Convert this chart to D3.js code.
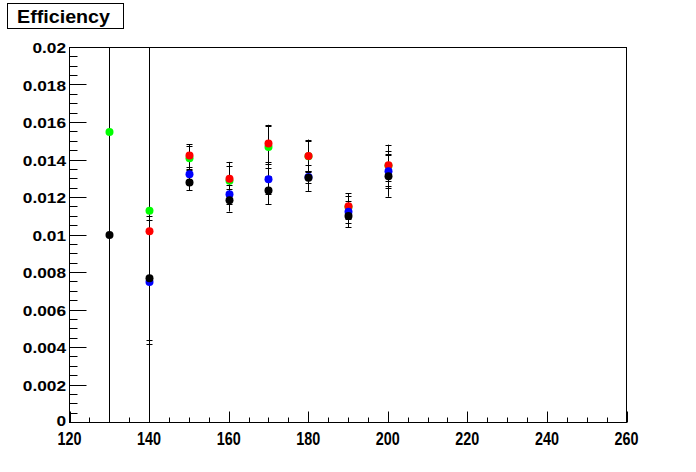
<!DOCTYPE html>
<html><head><meta charset="utf-8">
<script src="https://d3js.org/d3.v7.min.js"></script>
<style>body{margin:0;background:#fff}svg{display:block}text{font-family:"Liberation Sans",Arial,sans-serif;font-weight:bold}</style>
</head><body><svg id="c" width="696" height="472"></svg>
<script>
const xs = [130,140,150,160,170,180,190,200];
const seriesNames = ["green","red","blue","black"];
const colors = ["#00ff00","#ff0000","#0000ff","#000000"];
// values (null = no point)
const greenVals = [0.0155,0.0113,0.0141,0.0129,0.0147,0.0142,0.0115,0.0137];
const greenErr  = [0.03,0.03,0.00063,0.0008,0.0011,0.0008,0.0006,0.0008];
const redVals   = [null,0.0102,0.01424,0.0130,0.01488,0.01422,0.01154,0.01372];
const redErr    = [null,0.03,0.0006,0.0009,0.0010,0.00087,0.0007,0.0011];
const blueVals  = [null,0.0075,0.01324,0.01218,0.01298,0.0131,0.01124,0.0134];
const blueErr   = [null,0.0033,0.0003,0.0005,0.0008,0.0003,0.0006,0.0009];
const blackVals = [0.0100,0.0077,0.0128,0.01185,0.01238,0.01305,0.01101,0.01314];
const blackErr  = [0.03,0.0033,0.0004,0.0006,0.00075,0.0007,0.0006,0.0011];
const xTicks = [120,140,160,180,200,220,240,260];
const yTicks = [0,0.002,0.004,0.006,0.008,0.01,0.012,0.014,0.016,0.018,0.02];
const title = "Efficiency";

const vals = [greenVals,redVals,blueVals,blackVals];
const errs = [greenErr,redErr,blueErr,blackErr];

const L=69.5,R=626.5,T=47.5,B=422.5;
const svg = d3.select("#c");
const x = d3.scaleLinear().domain([120,260]).range([L,R]);
const y = d3.scaleLinear().domain([0,0.02]).range([B,T]);

// title
const tg = svg.append("g");
tg.append("rect").attr("x",7.5).attr("y",3.5).attr("width",116).attr("height",25).attr("fill","#fff").attr("stroke","#000");
tg.append("text").attr("x",17).attr("y",22.5).attr("font-size",19).attr("textLength",93).attr("lengthAdjust","spacingAndGlyphs").text(title);

// frame
svg.append("rect").attr("x",L).attr("y",T).attr("width",R-L).attr("height",B-T).attr("fill","none").attr("stroke","#000");

// x ticks
const xMinor = d3.range(120,261,5);
svg.append("g").selectAll("line").data(xMinor).join("line")
  .attr("x1",d=>Math.round(x(d))+0.5).attr("x2",d=>Math.round(x(d))+0.5)
  .attr("y1",B).attr("y2",d=>d%20===0?B-11:B-5).attr("stroke","#000");
svg.append("g").selectAll("text").data(xTicks).join("text")
  .attr("x",d=>x(d)).attr("y",444.5).attr("text-anchor","middle").attr("font-size",18)
  .attr("textLength",24).attr("lengthAdjust","spacingAndGlyphs").text(d=>d);

// y ticks
const yMinor = d3.range(0,41).map(i=>i*0.0005);
svg.append("g").selectAll("line").data(yMinor).join("line")
  .attr("y1",d=>Math.round(y(d)-0.5)+0.5).attr("y2",d=>Math.round(y(d)-0.5)+0.5)
  .attr("x1",L).attr("x2",(d,i)=>i%4===0?L+17:L+8).attr("stroke","#000");
const yfmt = d=> d===0?"0":String(+d.toFixed(3));
svg.append("g").selectAll("text").data(yTicks).join("text")
  .attr("x",66).attr("y",d=>y(d)+(d===0?3.5:5.5)).attr("text-anchor","end").attr("font-size",15)
  .each(function(d){
    const s=yfmt(d); const t=d3.select(this).text(s);
    const w=this.getComputedTextLength();
    t.attr("textLength",w*1.15).attr("lengthAdjust","spacingAndGlyphs");
  });

// clip
svg.append("clipPath").attr("id","pc").append("rect").attr("x",L).attr("y",T).attr("width",R-L).attr("height",B-T);
const plot = svg.append("g").attr("clip-path","url(#pc)");

// error bars
vals.forEach((v,si)=>{
  xs.forEach((xv,i)=>{
    if(v[i]==null) return;
    const e=errs[si][i], cx=Math.round(x(xv))+0.5;
    const y1=y(v[i]+e), y2=y(v[i]-e);
    plot.append("line").attr("x1",cx).attr("x2",cx).attr("y1",y1).attr("y2",y2).attr("stroke","#000");
    [y1,y2].forEach(yy=>plot.append("line").attr("x1",cx-3).attr("x2",cx+3).attr("y1",Math.round(yy)+0.5).attr("y2",Math.round(yy)+0.5).attr("stroke","#000"));
  });
});
// markers
vals.forEach((v,si)=>{
  plot.append("g").selectAll("circle").data(xs.map((xv,i)=>[xv,v[i]]).filter(d=>d[1]!=null)).join("circle")
    .attr("cx",d=>Math.round(x(d[0]))+0.5).attr("cy",d=>y(d[1])).attr("r",4).attr("fill",colors[si]);
});
</script></body></html>
